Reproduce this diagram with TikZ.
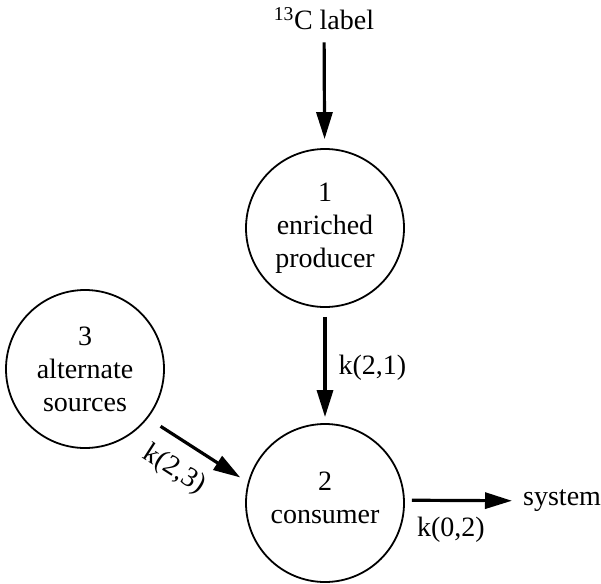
\documentclass[tikz,border=0pt]{standalone}
\usepackage{fontspec}
\setmainfont{Liberation Serif}
\usetikzlibrary{arrows.meta}

\begin{document}
\begin{tikzpicture}[x=1pt,y=-1pt,
    font=\fontsize{28}{33}\selectfont, inner sep=3pt,
    pool/.style={draw, circle, line width=1.8pt, minimum size=158pt, inner sep=0pt, align=center},
    flow/.style={-{Triangle[length=27pt,width=16pt]}, line width=3.2pt}]
    \useasboundingbox (0,0) rectangle (601,583);

    \node (lbl) at (324,19) {\textsuperscript{13}C label};
    \node[pool] (n1) at (325,228) {1\\enriched\\producer};
    \node[pool] (n2) at (325,503) {2\\consumer\strut};
    \node[pool] (n3) at (85,369) {3\\alternate\\sources};
    \node[anchor=west] (sys) at (520,501) {system};

    \draw[flow, shorten <=9pt, shorten >=9pt] (lbl) -- (n1);
    \draw[flow, shorten <=9pt, shorten >=6pt] (n1) -- (n2) node[pos=0.52, right=9pt] {k(2,1)};
    \draw[flow, shorten <=15pt, shorten >=9pt] (n3.-38) -- (n2.165) node[pos=0.42, below=12pt, sloped] {k(2,3)};
    \draw[flow, shorten <=7pt, shorten >=8pt] (n2.2) -- (sys) node[pos=0.4, below=12pt] {k(0,2)};
\end{tikzpicture}
\end{document}
